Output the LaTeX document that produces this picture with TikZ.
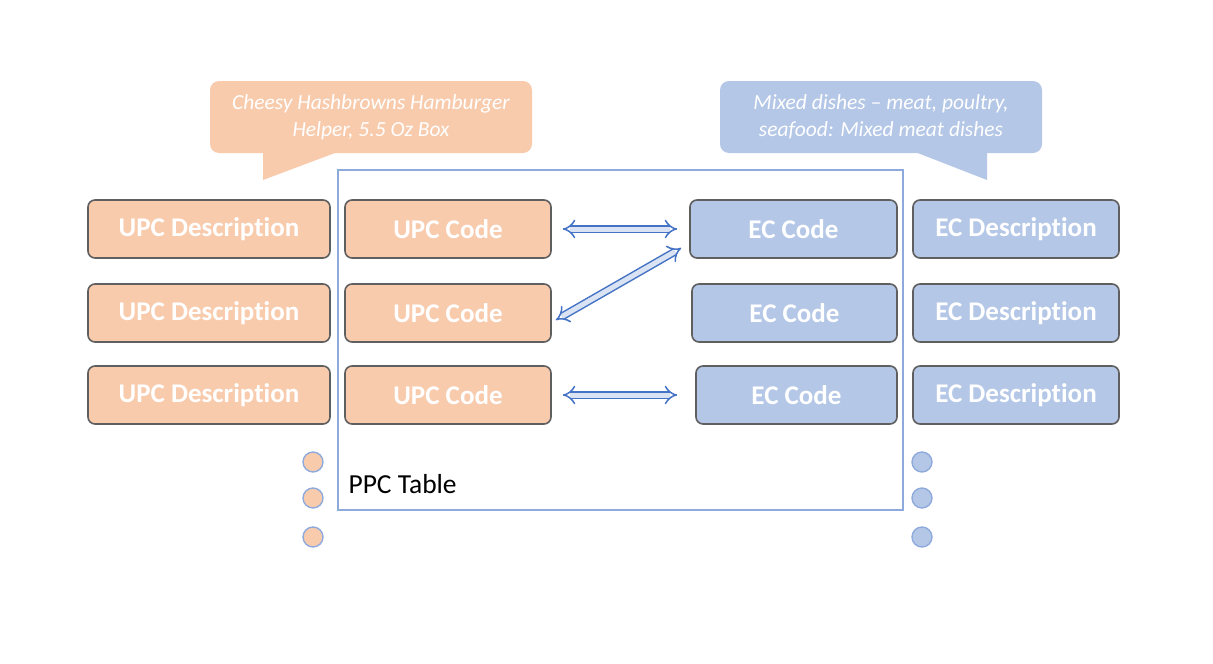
\documentclass[tikz,border=0pt]{standalone}
\usepackage{fontspec}
\setmainfont[Ligatures={NoCommon}]{Carlito}
\usetikzlibrary{arrows.meta}

\definecolor{upcfill}{HTML}{F8CBAD}
\definecolor{ecfill}{HTML}{B4C7E7}
\definecolor{boxgray}{HTML}{5F5F5F}
\definecolor{tableline}{HTML}{8EA9DB}
\definecolor{dotline}{HTML}{8FAADC}
\definecolor{arrowblue}{HTML}{4472C4}
\definecolor{arrowfill}{HTML}{DAE3F3}

\tikzset{
  codebox/.style={draw=boxgray, line width=1.6pt, rounded corners=7pt,
    minimum height=58pt, inner sep=0pt, text=white,
    font=\fontsize{27}{32}\selectfont\bfseries},
  upcbox/.style={codebox, fill=upcfill},
  ecbox/.style={codebox, fill=ecfill},
  notecall/.style={rectangle, rounded corners=9pt, minimum width=322pt,
    minimum height=72pt, align=center, text=white,
    font=\fontsize{21.5}{27}\selectfont\itshape},
  dotmark/.style={circle, draw=dotline, line width=1.4pt, minimum size=20pt, inner sep=0pt},
  dblarrow/.style={draw=arrowblue, double=arrowfill, double distance=5pt,
    line width=1.5pt, {Implies}-{Implies}}
}

\begin{document}
\begin{tikzpicture}[x=1pt,y=-1pt]
  \useasboundingbox (0,0) rectangle (1213,664);

  % callouts
  \fill[upcfill] (263,150) -- (343,150) -- (263,180) -- cycle;
  \node[notecall, fill=upcfill] (upcnote) at (371,117)
    {Cheesy Hashbrowns Hamburger\\Helper, 5.5 Oz Box};
  \fill[ecfill] (910,150) -- (987,150) -- (987,180) -- cycle;
  \node[notecall, fill=ecfill] (ecnote) at (881,117)
    {Mixed dishes -- meat, poultry,\\seafood: Mixed meat dishes};

  % PPC table frame
  \draw[tableline, line width=1.4pt] (338,170) rectangle (903,510);
  \node[anchor=west, font=\fontsize{27.5}{32}\selectfont] (ppclabel) at (345,484) {PPC Table};

  % rows
  \foreach \i/\y/\ecx/\ecw in {1/229/793.5/207, 2/313/794.5/205, 3/395/796.5/201}{
    \node[upcbox, minimum width=242pt] (upcd\i) at (209,\y) {UPC Description};
    \node[upcbox, minimum width=206pt] (upc\i) at (448,\y) {UPC Code};
    \node[ecbox, minimum width=\ecw pt] (ec\i) at (\ecx,\y) {EC Code};
    \node[ecbox, minimum width=206pt] (ecd\i) at (1016,\y) {EC Description};
  }

  % links
  \draw[dblarrow] ([xshift=11pt]upc1.east) -- ([xshift=-12pt]ec1.west);
  \draw[dblarrow] ([xshift=4pt,yshift=-7pt]upc2.east) -- ([xshift=-8pt,yshift=-19pt]ec1.west);
  \draw[dblarrow] ([xshift=11pt]upc3.east) -- ([xshift=-18pt]ec3.west);

  % more rows
  \foreach \y in {462,498,537}{
    \node[dotmark, fill=upcfill] (udot\y) at (313,\y) {};
    \node[dotmark, fill=ecfill] (edot\y) at (922,\y) {};
  }
\end{tikzpicture}
\end{document}
